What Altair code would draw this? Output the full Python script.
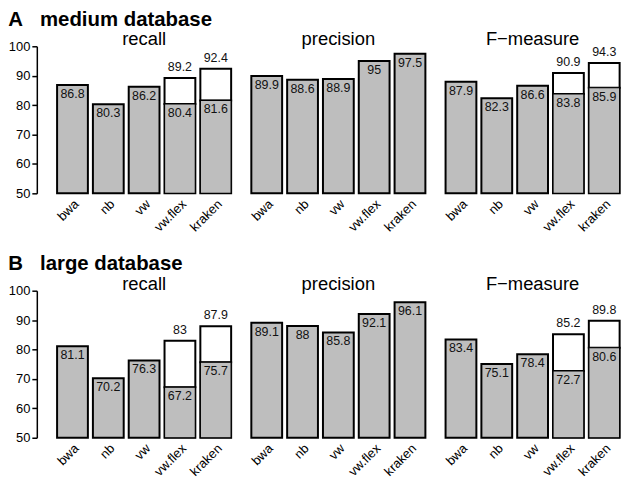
import altair as alt
import pandas as pd

tools = ["bwa", "nb", "vw", "vw.flex", "kraken"]
metrics = ["recall", "precision", "F\u2212measure"]
databases = ["medium", "large"]
row_titles = {"medium": "A\u00a0\u00a0\u00a0medium database",
              "large": "B\u00a0\u00a0\u00a0large database"}
y_ticks = [50, 60, 70, 80, 90, 100]

# gray bar values
medium_recall = [86.8, 80.3, 86.2, 80.4, 81.6]
medium_precision = [89.9, 88.6, 88.9, 95.0, 97.5]
medium_fmeasure = [87.9, 82.3, 86.6, 83.8, 85.9]
large_recall = [81.1, 70.2, 76.3, 67.2, 75.7]
large_precision = [89.1, 88.0, 85.8, 92.1, 96.1]
large_fmeasure = [83.4, 75.1, 78.4, 72.7, 80.6]

# white (upper) bar values
medium_recall_top = [None, None, None, 89.2, 92.4]
medium_fmeasure_top = [None, None, None, 90.9, 94.3]
large_recall_top = [None, None, None, 83.0, 87.9]
large_fmeasure_top = [None, None, None, 85.2, 89.8]
no_top = [None, None, None, None, None]

series = {
    ("medium", "recall"): (medium_recall, medium_recall_top),
    ("medium", "precision"): (medium_precision, no_top),
    ("medium", "F\u2212measure"): (medium_fmeasure, medium_fmeasure_top),
    ("large", "recall"): (large_recall, large_recall_top),
    ("large", "precision"): (large_precision, no_top),
    ("large", "F\u2212measure"): (large_fmeasure, large_fmeasure_top),
}

rows = []
for (db, metric), (vals, tops) in series.items():
    for t, v, tp in zip(tools, vals, tops):
        rows.append({
            "db": db, "metric": metric, "tool": t,
            "val": v, "val_label": f"{v:g}",
            "top": tp, "top_label": (f"{tp:g}" if tp is not None else None),
        })
df = pd.DataFrame(rows)

FONT = "Liberation Sans"
GRAY = "#bebebe"
W = 186
H = 148


def panel(db, metric, show_y):
    base = alt.Chart(df).transform_filter(
        (alt.datum.db == db) & (alt.datum.metric == metric)
    )
    x = alt.X(
        "tool:N", sort=tools,
        scale=alt.Scale(paddingInner=0.14, paddingOuter=0.15),
        axis=alt.Axis(labelAngle=-45, domain=False, ticks=False, title=None,
                      labelFontSize=13, labelPadding=4, labelColor="black",
                      labelFont=FONT),
    )
    yscale = alt.Scale(domain=[50, 100], nice=False, zero=False)
    if show_y:
        yaxis = alt.Axis(values=y_ticks, offset=15, title=None,
                         grid=False, domainColor="black", domainWidth=1.5,
                         tickColor="black", tickWidth=1.5, tickSize=5,
                         labelFontSize=13, labelColor="black", labelPadding=2,
                         labelFont=FONT, labelOverlap=False, labelFlush=False)
    else:
        yaxis = None

    def Y(field):
        return alt.Y(field, scale=yscale, axis=yaxis)

    gray = base.mark_bar(color=GRAY, stroke="black", strokeWidth=2).encode(
        x=x, y=Y("val:Q"), y2=alt.datum(50)
    )
    white = base.transform_filter("isValid(datum.top)").mark_bar(
        color="white", stroke="black", strokeWidth=2
    ).encode(x=x, y=Y("top:Q"), y2="val:Q")
    divider = base.transform_filter("isValid(datum.top)").mark_bar(
        color=GRAY, stroke="black", strokeWidth=1.2
    ).encode(x=x, y=Y("val:Q"), y2=alt.datum(50))
    inner_text = base.mark_text(baseline="top", dy=3, fontSize=12.5,
                                font=FONT, color="#111").encode(
        x=x, y=Y("val:Q"), text="val_label:N"
    )
    top_text = base.transform_filter("isValid(datum.top)").mark_text(
        baseline="bottom", dy=-4, fontSize=12.5, font=FONT, color="#111"
    ).encode(x=x, y=Y("top:Q"), text="top_label:N")
    title_text = base.transform_filter(alt.datum.tool == tools[0]).mark_text(
        text=metric, fontSize=18.5, font=FONT, color="black",
        baseline="alphabetic", align="center"
    ).encode(x=alt.value(W / 2), y=alt.value(-1))
    return alt.layer(gray, white, divider, inner_text, top_text,
                     title_text).properties(width=W, height=H)


rows_charts = []
for db in databases:
    r = alt.hconcat(
        *[panel(db, m, i == 0) for i, m in enumerate(metrics)], spacing=9.5
    ).properties(
        title=alt.TitleParams(row_titles[db], anchor="start", fontSize=20.5,
                              fontWeight="bold", font=FONT, color="black",
                              offset=0)
    )
    rows_charts.append(r)

chart = alt.vconcat(*rows_charts, spacing=20).properties(
    padding={"top": 0, "left": 0, "right": 0, "bottom": 0}
).configure_view(stroke=None)

chart.save("out.html", embed_options={"renderer": "svg", "actions": False})
